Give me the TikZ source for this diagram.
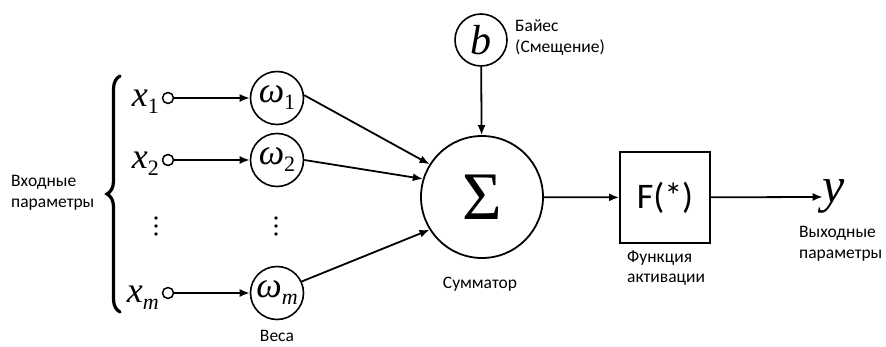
\documentclass[tikz,border=0pt]{standalone}
\usepackage{fontspec}
\setmainfont{Carlito}
\newfontfamily\mathserif{Liberation Serif}
\usetikzlibrary{arrows.meta,decorations.pathreplacing}
\tikzset{
  conn/.style={line width=1.8pt,-{Latex[length=10pt,width=8pt]}},
  wcirc/.style={circle,draw,line width=1.6pt,minimum size=53pt,inner sep=0pt},
  incirc/.style={circle,draw,line width=1.5pt,minimum size=11pt,inner sep=0pt},
  lbl/.style={font=\fontsize{17.5}{20.5}\selectfont,inner sep=0pt},
  mvar/.style={font=\mathserif\itshape\fontsize{36}{36}\selectfont,inner sep=0pt},
  vdot/.style={circle,fill,minimum size=3.8pt,inner sep=0pt},
}
\newcommand{\subx}[1]{\raisebox{-7pt}{\fontsize{22}{22}\selectfont #1}}
\begin{document}
\begin{tikzpicture}[x=1pt,y=-1pt]
\useasboundingbox (0,0) rectangle (886,347);
% brace
\coordinate (bt) at (120,76);
\coordinate (bb) at (120,312);
\draw[line width=3.2pt,line cap=round,decorate,decoration={brace,amplitude=13pt,mirror}] (bt) -- (bb);
\node[lbl,align=left,anchor=west] (inp) at (11,193) {Входные\\параметры};
% inputs
\foreach \i/\y/\s in {1/98/\upshape 1,2/160/\upshape 2,m/293/m}{
  \node[mvar,anchor=base east] (x\i) at (159,\y+9) {x\subx{\s}};
  \node[incirc] (c\i) at (168,\y) {};
  \node[wcirc] (w\i) at (277,\y) {\mathserif\itshape\fontsize{36}{36}\selectfont ω\subx{\s}};
  \draw[conn] (c\i) -- (w\i);
}
\foreach \xx/\nm in {156/da,276/db}{
  \node[vdot] (\nm1) at (\xx,218) {};
  \node[vdot] (\nm2) at (\xx,226) {};
  \node[vdot] (\nm3) at (\xx,234) {};
}
\node[lbl] (wts) at (277,336) {Веса};
% sum
\node[circle,draw,line width=1.8pt,minimum size=122pt,inner sep=0pt] (sum) at (482,197) {\mathserif\fontsize{68}{68}\selectfont Σ};
\node[lbl] (suml) at (480,284) {Сумматор};
\draw[conn] (w1.6) -- (sum.148);
\draw[conn] (w2.east) -- (sum.163);
\draw[conn] (wm.25) -- (sum.212);
% bias
\node[circle,draw,line width=1.6pt,minimum size=52pt,inner sep=0pt] (b) at (481,40) {\mathserif\itshape\fontsize{42}{42}\selectfont b};
\node[lbl,align=left,anchor=west] (bl) at (515,37.5) {Байес\\(Смещение)};
\draw[conn] (b) -- (sum);
% activation
\node[draw,line width=1.8pt,minimum width=90pt,minimum height=91pt,inner sep=0pt,font=\fontsize{36}{36}\selectfont] (F) at (665,197.5) {F(*)};
\node[lbl,align=left,anchor=west] (Fl) at (627,268) {Функция\\активации};
\draw[conn] (sum) -- (F);
\node[mvar,font=\mathserif\itshape\fontsize{50}{50}\selectfont,anchor=base] (y) at (834,203) {y};
\draw[conn] (F) -- (y);
\node[lbl,align=left,anchor=west] (yl) at (799,244) {Выходные\\параметры};
\end{tikzpicture}
\end{document}
